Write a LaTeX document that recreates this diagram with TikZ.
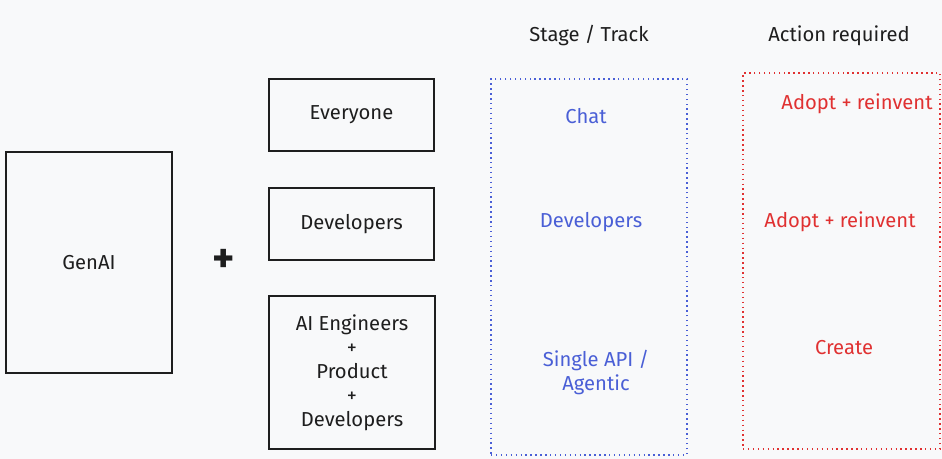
\documentclass[tikz,border=0pt]{standalone}
\usepackage{fontspec}
\setmainfont{Fira Sans}
\usepackage{xcolor}
\usetikzlibrary{positioning}
\definecolor{bgpaper}{HTML}{F8F9FA}
\definecolor{trackblue}{HTML}{4A5FD6}
\definecolor{actionred}{HTML}{E03131}
\definecolor{inkdark}{HTML}{1E1E1E}

\begin{document}
\begin{tikzpicture}[
    x=0.02cm, y=-0.02cm,
    box/.style={rectangle, draw=inkdark, line width=1.1pt, align=center, inner sep=2pt, font=\fontsize{11.5}{13.6}\selectfont, text=inkdark},
    head/.style={font=\fontsize{11.5}{14}\selectfont, text=inkdark},
    track/.style={font=\fontsize{11.5}{14}\selectfont, text=trackblue, align=center},
    action/.style={font=\fontsize{11.5}{14}\selectfont, text=actionred},
    column/.style={rectangle, dotted, line width=0.8pt}
]
    \fill[bgpaper] (0,0) rectangle (942,459);
    \useasboundingbox (0,0) rectangle (942,459);

    \node[box, minimum width=166*0.02cm, minimum height=221*0.02cm] (genai) at (89,262.5) {GenAI};
    \node[font=\fontsize{24}{24}\bfseries\selectfont, text=inkdark] (plus) at (224,261) {+};

    \node[box, minimum width=165*0.02cm, minimum height=72*0.02cm] (everyone) at (351.5,115) {Everyone};
    \node[box, minimum width=165*0.02cm, minimum height=72*0.02cm] (devs) at (351.5,224) {Developers};
    \node[box, minimum width=166*0.02cm, minimum height=153*0.02cm] (team) at (352,372.5) {AI Engineers\\+\\Product\\+\\Developers};

    \node[head] (stagehead) at (589,36) {Stage / Track};
    \node[head] (actionhead) at (839,36) {Action required};

    \node[column, draw=trackblue, minimum width=196*0.02cm, minimum height=376*0.02cm] (trackcol) at (589,267) {};
    \node[column, draw=actionred, minimum width=197*0.02cm, minimum height=376*0.02cm] (actioncol) at (841.5,261) {};

    \node[track] (chat) at (586,116) {Chat};
    \node[track] (trackdevs) at (591,222) {Developers};
    \node[track] (agentic) at (596,372.5) {Single API /\\Agentic};

    \node[action] (adopt1) at (857,104) {Adopt + reinvent};
    \node[action] (adopt2) at (840,222) {Adopt + reinvent};
    \node[action] (create) at (844,348) {Create};
\end{tikzpicture}
\end{document}
